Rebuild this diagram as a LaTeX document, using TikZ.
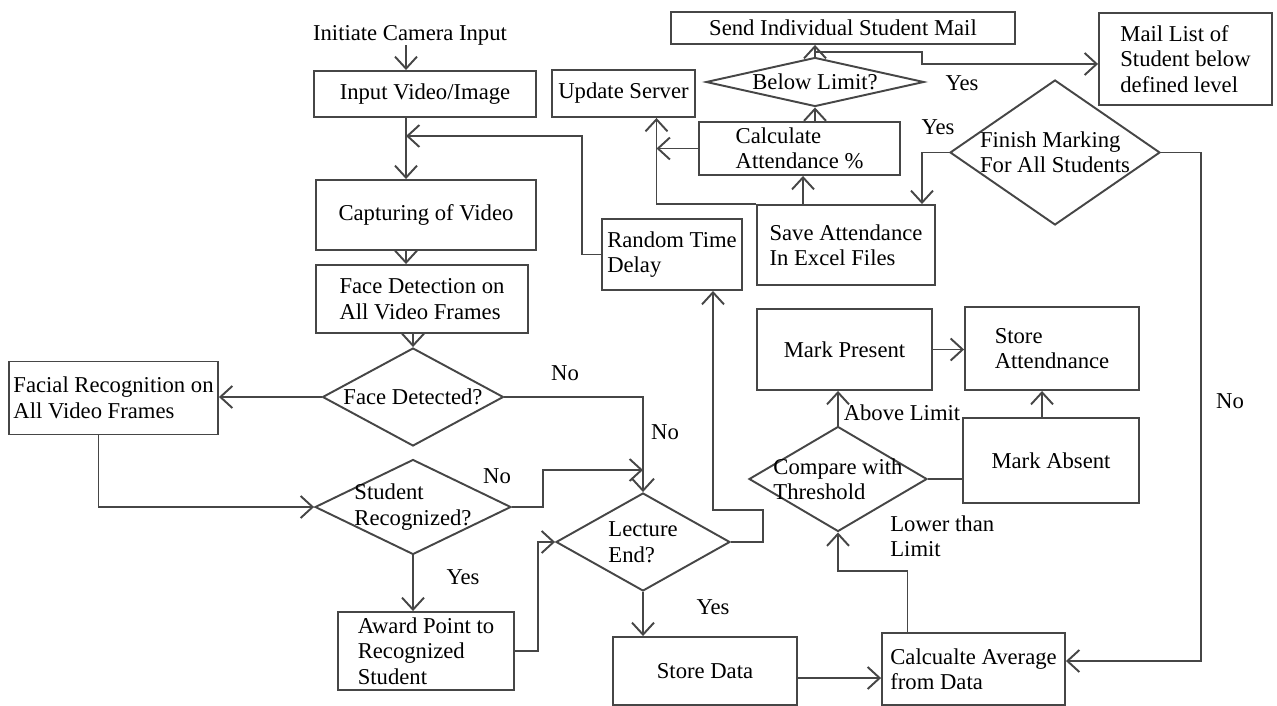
\documentclass[tikz,border=0pt]{standalone}
\usepackage{fontspec}
\setmainfont{Liberation Serif}
\usetikzlibrary{positioning, arrows.meta, shapes.geometric}

\definecolor{linegray}{RGB}{70,70,70}

\tikzset{
    box/.style={draw=linegray, line width=1.1pt, inner sep=2pt, align=left},
    dia/.style={diamond, draw=linegray, line width=1.1pt, inner sep=0pt},
    arr/.style={draw=linegray, line width=1.1pt, -{Straight Barb[length=2.4mm,width=4.4mm]}},
    plain/.style={draw=linegray, line width=1.1pt},
    lbl/.style={inner sep=0pt, align=left},
}

\begin{document}
\begin{tikzpicture}[x=0.02cm, y=-0.02cm, every node/.append style={font=\fontsize{12.9}{14.5}\selectfont}]
    \useasboundingbox (0,0) rectangle (1277,706);

    % left column
    \node[lbl] (init) at (410,35) {Initiate Camera Input};
    \node[box, minimum width=4.44cm, minimum height=0.92cm] (input) at (425,94) {Input Video/Image};
    \node[box, minimum width=4.40cm, minimum height=1.40cm] (capture) at (426,215) {Capturing of Video};
    \node[box, minimum width=4.24cm, minimum height=1.36cm] (facedet) at (422,299) {Face Detection on\\All Video Frames};
    \node[dia, minimum width=3.62cm, minimum height=1.96cm, label={center:Face Detected?}] (detq) at (413,397) {};
    \node[box, minimum width=4.18cm, minimum height=1.46cm] (facrec) at (113.5,398) {Facial Recognition on\\All Video Frames};
    \node[dia, minimum width=3.92cm, minimum height=1.90cm, label={[align=left]center:Student\\Recognized?}] (recq) at (413,507) {};
    \node[box, minimum width=3.52cm, minimum height=1.56cm] (award) at (426,651) {Award Point to\\Recognized\\Student};

    % middle
    \node[dia, minimum width=3.48cm, minimum height=1.96cm, label={[align=left]center:Lecture\\End?}] (lecq) at (643,542) {};
    \node[box, minimum width=2.80cm, minimum height=1.42cm] (delay) at (672,254.5) {Random Time\\Delay};
    \node[box, minimum width=3.68cm, minimum height=1.36cm] (store) at (705,671) {Store Data};
    \node[box, minimum width=3.66cm, minimum height=1.44cm] (avg) at (973.5,669) {Calcualte Average\\from Data};
    \node[dia, minimum width=3.56cm, minimum height=2.10cm, label={[align=left]center:Compare with\\Threshold}] (compq) at (838,479) {};
    \node[box, minimum width=3.50cm, minimum height=1.62cm] (present) at (844.5,349.5) {Mark Present};
    \node[box, minimum width=3.48cm, minimum height=1.66cm] (storeatt) at (1052,348.5) {Store\\Attendnance};
    \node[box, minimum width=3.52cm, minimum height=1.70cm] (absent) at (1051,460.5) {Mark Absent};

    % top
    \node[box, minimum width=3.56cm, minimum height=1.60cm] (save) at (846,245) {Save Attendance\\In Excel Files};
    \node[dia, minimum width=4.20cm, minimum height=2.90cm, label={[align=left]center:Finish Marking\\For All Students}] (finq) at (1055,152.5) {};
    \node[box, minimum width=4.02cm, minimum height=1.06cm, inner sep=1pt] (calc) at (799.5,148.5) {Calculate\\Attendance \%};
    \node[box, minimum width=2.86cm, minimum height=0.94cm] (update) at (623.5,93.5) {Update Server};
    \node[dia, minimum width=4.36cm, minimum height=0.98cm, label={center:Below Limit?}] (belowq) at (815,82) {};
    \node[box, minimum width=6.88cm, minimum height=0.64cm] (send) at (843,28) {Send Individual Student Mail};
    \node[box, minimum width=3.46cm, minimum height=1.84cm] (maillist) at (1185.5,59) {Mail List of\\Student below\\defined level};

    % branch labels
    \node[lbl] (no1) at (565,373) {No};
    \node[lbl] (no2) at (665,432) {No};
    \node[lbl] (no3) at (497,476) {No};
    \node[lbl] (yes1) at (463,577) {Yes};
    \node[lbl] (yes2) at (713,607) {Yes};
    \node[lbl] (above) at (902,413) {Above Limit};
    \node[lbl, anchor=west] (lower) at (890,536) {Lower than\\Limit};
    \node[lbl] (yes3) at (962,83) {Yes};
    \node[lbl] (yes4) at (938,127) {Yes};
    \node[lbl] (no4) at (1230,401) {No};

    \coordinate (spine) at (406,0);
    \coordinate (loopin) at (406,136);
    \coordinate (lecjoin) at (643,470);
    \coordinate (upd) at ([xshift=0.66cm]update.south);

    % connectors
    \draw[arr] (init.south -| spine) -- (input.north -| spine);
    \draw[arr] (input.south -| spine) -- (capture.north -| spine);
    \draw[arr] (delay.west) -- ++(-19,0) |- (loopin);
    \draw[arr] (capture.south -| spine) -- (facedet.north -| spine);
    \draw[arr] (facedet.south -| detq.north) -- (detq.north);
    \draw[arr] (detq.west) -- (detq.west -| facrec.east);
    \draw[arr] ([xshift=-0.3cm]facrec.south) |- (recq.west);
    \draw[arr] (detq.east) -| (lecq.north);
    \draw[arr] (recq.east) -- ++(31,0) |- (lecjoin);
    \draw[arr] (recq.south) -- (recq.south |- award.north);
    \draw[arr] (award.east) -- ++(23,0) |- (lecq.west);
    \draw[arr] (lecq.east) -- ++(32,0) -- ++(0,-32) -| ([xshift=0.82cm]delay.south);
    \draw[arr] (lecq.south) -- (lecq.south |- store.north);
    \draw[arr] ([yshift=-0.14cm]store.east) -- ([yshift=-0.14cm]store.east -| avg.west);
    \draw[arr] (finq.east) -- ++(40,0) |- ([yshift=0.16cm]avg.east);
    \draw[arr] ([xshift=-1.32cm]avg.north) -- ++(0,-61) -| (compq.south);
    \draw[arr] (compq.north) -- (compq.north |- present.south);
    \draw[arr] (present.east) -- (present.east -| storeatt.west);
    \draw[arr] ([xshift=-0.18cm]absent.north) -- ([xshift=-0.18cm]absent.north |- storeatt.south);
    \draw[plain] (compq.east) -- (compq.east -| absent.west);
    \draw[arr] (finq.west) -| ([xshift=1.52cm]save.north);
    \draw[arr] ([xshift=-0.86cm]save.north) -- ([xshift=-0.86cm]save.north |- calc.south);
    \draw[arr] (save.north west) -| (upd);
    \draw[arr] (calc.west) -- (calc.west -| upd);
    \draw[arr] (belowq.south |- calc.north) -- (belowq.south);
    \draw[arr] (belowq.north) -- (belowq.north |- send.south);
    \draw[arr] ([yshift=0.1cm]belowq.north) -- ++(107,0) |- ([yshift=-0.1cm]maillist.west);
\end{tikzpicture}
\end{document}
